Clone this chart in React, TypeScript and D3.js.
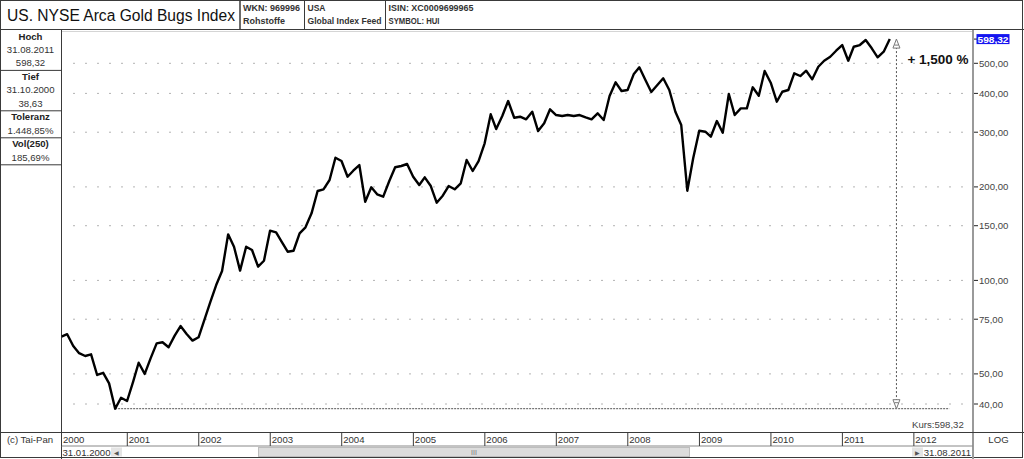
import * as d3 from 'd3';

// monthly closes, Jan 2000 .. Aug 2011 (month end)
const closes = [
  65.9, 67.1, 61.5, 58.3, 57.1, 57.8, 49.6, 50.4, 46.6, 38.63, 41.9, 40.9,
  47.2, 54.3, 50.0, 56.1, 62.7, 63.2, 60.9, 66.4, 71.3, 67.2, 64.0, 65.6,
  75.1, 84.8, 96.6, 107.2, 140.7, 128.4, 107.5, 128.4, 125.3, 110.7, 115.7, 144.6,
  142.8, 133.2, 123.7, 124.6, 141.8, 148.2, 164.4, 194.0, 196.5, 210.5, 248.3, 242.3,
  215.7, 225.5, 235.2, 179.2, 199.4, 189.3, 186.0, 208.9, 231.3, 233.5, 237.0, 215.7,
  202.8, 214.7, 201.3, 177.9, 187.4, 201.3, 196.5, 205.4, 244.1, 225.0, 242.3, 276.2,
  342.6, 307.2, 338.3, 378.0, 334.0, 336.5, 330.1, 349.2, 302.6, 320.4, 355.5, 340.8,
  338.3, 340.8, 338.3, 340.8, 335.0, 330.1, 345.1, 328.4, 392.3, 434.3, 407.2, 410.2,
  460.8, 485.2, 441.8, 404.1, 425.6, 447.4, 410.2, 349.2, 316.4, 194.4, 247.2, 303.3,
  301.1, 290.1, 326.0, 298.9, 398.2, 340.8, 358.1, 358.1, 418.5, 393.2, 472.2, 433.0,
  376.1, 405.0, 410.2, 464.2, 455.0, 473.2, 444.0, 487.4, 509.6, 525.0, 548.8, 572.5,
  509.6, 565.3, 572.5, 594.1, 558.8, 522.8, 544.9, 598.32,
];
const years = [2000, 2001, 2002, 2003, 2004, 2005, 2006, 2007, 2008, 2009, 2010, 2011, 2012];
const priceTicks = [40, 50, 75, 100, 150, 200, 300, 400, 500];
const lastClose = 598.32;
const lowClose = 38.63;
const lowDate = new Date(2000, 9, 31);
const arrowDate = new Date(2011, 9, 4);
const lowLineEnd = new Date(2012, 5, 30);

const headerCells = [
  { lines: ['WKN: 969996', 'Rohstoffe'], widths: [57, 42] },
  { lines: ['USA', 'Global Index Feed'], widths: [18, 74] },
  { lines: ['ISIN: XC0009699965', 'SYMBOL: HUI'], widths: [85, 51] },
];
const infoBoxes = [
  { head: 'Hoch', lines: ['31.08.2011', '598,32'] },
  { head: 'Tief', lines: ['31.10.2000', '38,63'] },
  { head: 'Toleranz', lines: ['1.448,85%'] },
  { head: 'Vol(250)', lines: ['185,69%'] },
];

const W = 1024;
const H = 459;
const left = 61.5;
const right = 973;
const top = 30;
const bottom = 432.5;
const rowH = 13.4;
const fs = 9.6;
const font = '"Liberation Sans", Arial, sans-serif';
const frame = '#3a3a3a';

const de = d3.formatLocale({ decimal: ',', thousands: '.', grouping: [3], currency: ['', ''] });
const fmt = de.format(',.2f');

const points = closes.map((v, i) => ({ date: new Date(2000, i + 1, 0), v }));

const x = d3.scaleTime()
  .domain([new Date(2000, 0, 31), new Date(2012, 9, 29)])
  .range([left, right]);
const y = d3.scaleLog().domain([40, 500]).range([404, 63.3]);

const line = d3.line<{ date: Date; v: number }>()
  .x(d => x(d.date))
  .y(d => y(d.v));

const cellEdges = [240, 304.5, 385.5];

export default function App() {
  const arrowX = x(arrowDate);
  const yHigh = y(lastClose);
  const yLow = y(lowClose);
  let boxTop = top;

  return (
    <>
      <style>{'body{margin:0}'}</style>
      <svg width={W} height={H} style={{ display: 'block', fontFamily: font }}>
        <rect x={0} y={0} width={W} height={H} fill="#fff" />
        <defs>
          <clipPath id="plot">
            <rect x={left} y={top} width={right - left} height={bottom - top} />
          </clipPath>
        </defs>

        {/* header */}
        <rect x={0.5} y={0.5} width={W - 2} height={H - 2} fill="none" stroke={frame} />
        <line x1={0} x2={W} y1={29.5} y2={29.5} stroke={frame} />
        <text x={7} y={21} fontSize={15.6} fill="#111">US. NYSE Arca Gold Bugs Index</text>
        {cellEdges.map((cx, i) => (
          <g key={cx}>
            <line x1={cx} x2={cx} y1={0} y2={29.5} stroke={frame} strokeWidth={i === 0 ? 1.5 : 1} />
            {headerCells[i].lines.map((t, k) => (
              <text key={t} x={cx + 3} y={10.5 + k * 13.5} fontSize={fs} fontWeight="bold" fill="#333"
                textLength={headerCells[i].widths[k]} lengthAdjust="spacingAndGlyphs">{t}</text>
            ))}
          </g>
        ))}
        <line x1={left} x2={right} y1={31.5} y2={31.5} stroke="#aaa" strokeDasharray="1 1" />

        {/* left info panel */}
        <line x1={left} x2={left} y1={top} y2={H} stroke={frame} />
        {infoBoxes.map(b => {
          const t0 = boxTop;
          boxTop += rowH * (b.lines.length + 1) + 0.2;
          return (
            <g key={b.head}>
              <text x={30.5} y={t0 + 9.5} fontSize={fs} fontWeight="bold" textAnchor="middle" fill="#222">{b.head}</text>
              {b.lines.map((t, k) => (
                <text key={t} x={30.5} y={t0 + 9.5 + (k + 1) * rowH} fontSize={fs} textAnchor="middle" fill="#333">{t}</text>
              ))}
              <line x1={0} x2={left} y1={boxTop} y2={boxTop} stroke={frame} />
            </g>
          );
        })}

        {/* grid */}
        {priceTicks.map(p => (
          <line key={p} x1={left + 12} x2={right - 2} y1={y(p)} y2={y(p)} stroke="#666" strokeDasharray="1 11" />
        ))}

        {/* right axis */}
        <line x1={right} x2={right} y1={top} y2={H} stroke="#9a9a9a" strokeWidth={2} />
        {priceTicks.map(p => (
          <g key={p}>
            <line x1={right + 1} x2={right + 5} y1={y(p)} y2={y(p)} stroke="#222" />
            <text x={right + 6} y={y(p) + 3.5} fontSize={fs} fill="#444">{fmt(p)}</text>
          </g>
        ))}
        <line x1={right + 1} x2={right + 5} y1={yHigh} y2={yHigh} stroke="#222" />
        <rect x={right + 3.5} y={yHigh - 5} width={33} height={10} fill="#1414f0" />
        <text x={right + 4.5} y={yHigh + 3.5} fontSize={fs} fontWeight="bold" fill="#fff"
          textLength={31} lengthAdjust="spacingAndGlyphs">{fmt(lastClose)}</text>

        {/* annotation */}
        <line x1={x(lowDate)} x2={x(lowLineEnd)} y1={yLow} y2={yLow} stroke="#555" strokeDasharray="2 1" />
        <line x1={arrowX} x2={arrowX} y1={yHigh} y2={yLow} stroke="#555" strokeDasharray="2 2" />
        <path d={`M${arrowX},${yHigh} L${arrowX - 3.5},${yHigh + 9} L${arrowX + 3.5},${yHigh + 9} Z M${arrowX - 2},${yHigh + 6} L${arrowX + 2},${yHigh + 6}`} fill="#fff" stroke="#777" />
        <path d={`M${arrowX},${yLow} L${arrowX - 3.5},${yLow - 9} L${arrowX + 3.5},${yLow - 9} Z M${arrowX - 2},${yLow - 6} L${arrowX + 2},${yLow - 6}`} fill="#fff" stroke="#777" />
        <text x={arrowX + 11} y={yHigh + 25} fontSize={13.5} fontWeight="bold" fill="#111">+ 1,500 %</text>
        <text x={right - 61} y={428} fontSize={fs} fill="#444">Kurs:{fmt(lastClose)}</text>

        {/* price line */}
        <path d={line(points) ?? ''} clipPath="url(#plot)" fill="none" stroke="#000" strokeWidth={2.4} strokeLinejoin="round" />

        {/* time axis */}
        <line x1={0} x2={W} y1={bottom} y2={bottom} stroke={frame} />
        <line x1={left} x2={right} y1={446} y2={446} stroke="#888" />
        {years.map(yr => {
          const xx = Math.max(x(new Date(yr, 0, 1)), left);
          return (
            <g key={yr}>
              <line x1={xx} x2={xx} y1={bottom} y2={446} stroke={frame} />
              <text x={xx + 1.5} y={443} fontSize={fs} fill="#333">{yr}</text>
            </g>
          );
        })}
        <text x={30} y={443} fontSize={fs} textAnchor="middle" fill="#333">(c) Tai-Pan</text>
        <text x={998.5} y={443} fontSize={fs} textAnchor="middle" fill="#333">LOG</text>

        {/* scroll bar */}
        <text x={left + 1} y={455.5} fontSize={fs} fill="#333">31.01.2000</text>
        <rect x={111} y={447.5} width={11} height={9} fill="#e4e4e4" />
        <text x={116.5} y={455} fontSize={6} textAnchor="middle" fill="#555">◀</text>
        <rect x={258.5} y={447.5} width={431} height={9} fill="#dcdcdc" stroke="#bdbdbd" />
        <text x={474} y={455} fontSize={7} textAnchor="middle" fill="#777">III</text>
        <rect x={912} y={447.5} width={11} height={9} fill="#e4e4e4" />
        <text x={917.5} y={455} fontSize={6} textAnchor="middle" fill="#555">▶</text>
        <text x={right - 2} y={455.5} fontSize={fs} textAnchor="end" fill="#333">31.08.2011</text>
      </svg>
    </>
  );
}
